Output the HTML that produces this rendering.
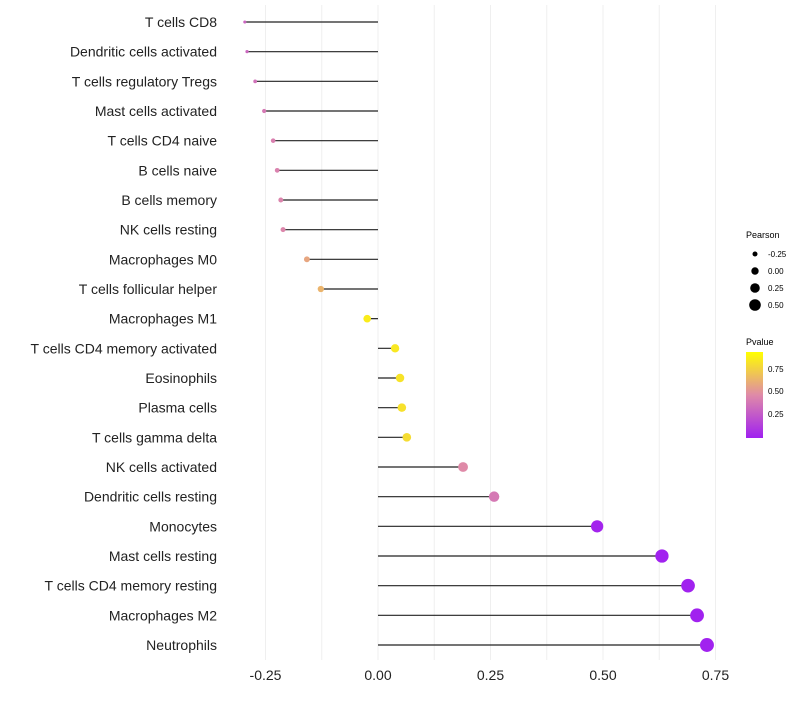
<!DOCTYPE html>
<html><head><meta charset="utf-8"><style>
body{margin:0;background:#fff;font-family:"Liberation Sans",sans-serif}
</style></head><body>
<svg id="c" width="800" height="700" xmlns="http://www.w3.org/2000/svg">
<defs><linearGradient id="pg" x1="0" y1="1" x2="0" y2="0">
<stop offset="0" stop-color="#a020f0"/><stop offset="0.5" stop-color="#df8aa8"/><stop offset="1" stop-color="#ffff00"/></linearGradient></defs>
<g id="grid"></g><g id="marks"></g><g id="labels"></g>
<g font-size="9" fill="#000">
<text x="746" y="238">Pearson</text>
<circle cx="755" cy="254" r="2.5"/><text x="768" y="257" font-size="8">-0.25</text>
<circle cx="755" cy="271" r="3.7"/><text x="768" y="274" font-size="8">0.00</text>
<circle cx="755" cy="288" r="4.8"/><text x="768" y="291" font-size="8">0.25</text>
<circle cx="755" cy="305" r="5.8"/><text x="768" y="308" font-size="8">0.50</text>
</g>
<g font-size="9">
<text x="746" y="345">Pvalue</text>
<rect x="746" y="352" width="17" height="86" fill="url(#pg)"/>
<text x="768" y="372" font-size="8">0.75</text>
<text x="768" y="394" font-size="8">0.50</text>
<text x="768" y="417" font-size="8">0.25</text>
</g>
</svg>
<script>
const cells=["T cells CD8","Dendritic cells activated","T cells regulatory  Tregs","Mast cells activated","T cells CD4 naive","B cells naive","B cells memory","NK cells resting","Macrophages M0","T cells follicular helper","Macrophages M1","T cells CD4 memory activated","Eosinophils","Plasma cells","T cells gamma delta","NK cells activated","Dendritic cells resting","Monocytes","Mast cells resting","T cells CD4 memory resting","Macrophages M2","Neutrophils"];
const pearson=[-0.296,-0.291,-0.273,-0.253,-0.233,-0.224,-0.216,-0.211,-0.158,-0.127,-0.024,0.038,0.049,0.053,0.064,0.189,0.258,0.487,0.631,0.689,0.709,0.731];
const pvalue=[0.33,0.34,0.38,0.42,0.45,0.46,0.47,0.48,0.62,0.68,0.92,0.9,0.88,0.87,0.85,0.5,0.42,0.02,0.01,0.01,0.01,0.01];
const xTicks=[-0.25,0,0.25,0.5,0.75];
const xTickLabels=["-0.25","0.00","0.25","0.50","0.75"];
const NS="http://www.w3.org/2000/svg";
const X=v=>378+v*450;
const Y=i=>22+i*(623/21);
const R=v=>Math.sqrt(2.25+45*(v+0.3));
function lerp(a,b,t){return a.map((x,k)=>Math.round(x+(b[k]-x)*t));}
function col(p){const a=[160,32,240],m=[223,138,168],b=[255,255,0];
const c=p<0.5?lerp(a,m,p/0.5):lerp(m,b,(p-0.5)/0.5);return `rgb(${c})`;}
function mk(t,at,par){const e=document.createElementNS(NS,t);for(const k in at)e.setAttribute(k,at[k]);par.appendChild(e);return e;}
const grid=document.getElementById('grid'),marks=document.getElementById('marks'),labels=document.getElementById('labels');
for(let v=-0.25;v<=0.76;v+=0.125){const l=mk('line',{x1:X(v),x2:X(v),y1:5,y2:660,stroke:'#efefef','stroke-width':1},grid);

}
xTicks.forEach((v,i)=>{const t=mk('text',{x:X(v),y:680,'text-anchor':'middle','font-size':14,fill:'#222'},labels);t.textContent=xTickLabels[i];

});
cells.forEach((c,i)=>{const y=Y(i);
const l=mk('line',{x1:X(0),x2:X(pearson[i]),y1:y,y2:y,stroke:'#222','stroke-width':1.2},marks);


const d=mk('circle',{cx:X(pearson[i]),cy:y,r:R(pearson[i]),fill:col(pvalue[i])},marks);


const t=mk('text',{x:217,y:y+5,'text-anchor':'end','font-size':14,fill:'#222'},labels);t.textContent=c;

});
</script>
</body></html>
